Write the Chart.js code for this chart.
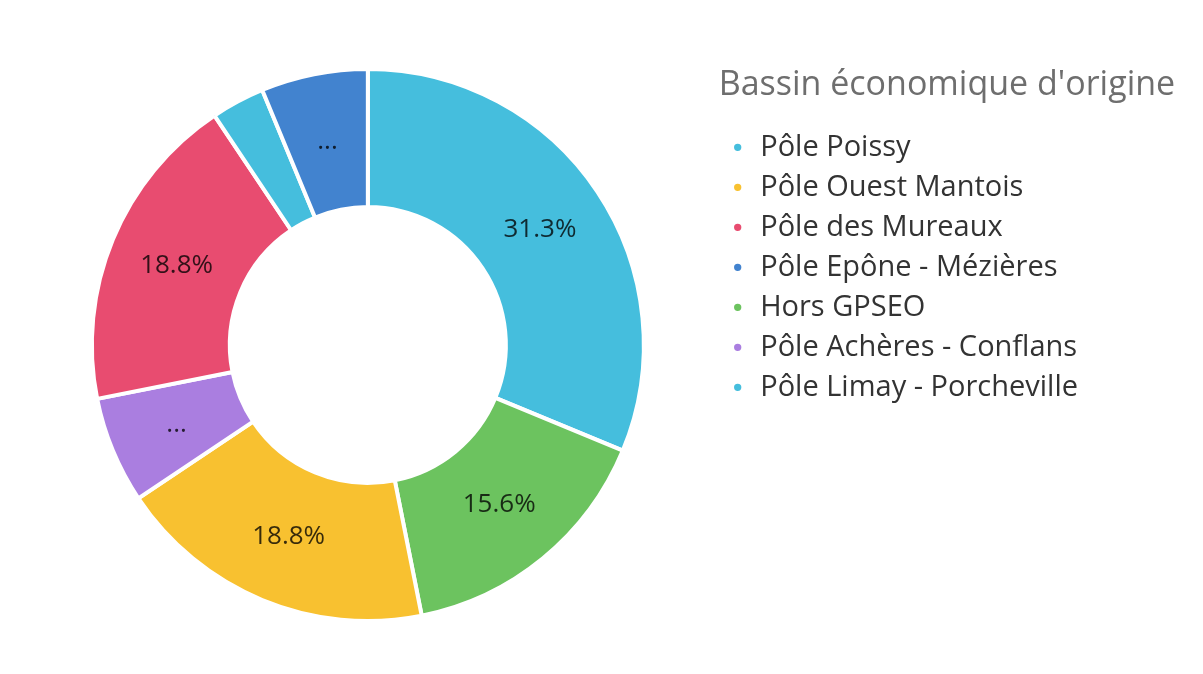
<!DOCTYPE html>
<html>
<head>
<meta charset="utf-8">
<script src="https://cdn.jsdelivr.net/npm/chart.js@4.4.0/dist/chart.umd.min.js"></script>
<style>
  html, body { margin: 0; padding: 0; background: #fff; }
  #wrap { width: 1203px; height: 674px; }
</style>
</head>
<body>
<div id="wrap"><canvas id="bassinChart"></canvas></div>
<script>
// slices, clockwise from the top
const categories = [
  "Pôle Poissy",
  "Hors GPSEO",
  "Pôle Ouest Mantois",
  "Pôle Achères - Conflans",
  "Pôle des Mureaux",
  "Pôle Limay - Porcheville",
  "Pôle Epône - Mézières"
];
const counts = [10, 5, 6, 2, 6, 1, 2];
const sliceColors = ["#45bedd", "#6cc35f", "#f8c130", "#aa7ee0", "#e84c70", "#45bedd", "#4283cf"];

// order shown in the legend
const legendOrder = [
  "Pôle Poissy",
  "Pôle Ouest Mantois",
  "Pôle des Mureaux",
  "Pôle Epône - Mézières",
  "Hors GPSEO",
  "Pôle Achères - Conflans",
  "Pôle Limay - Porcheville"
];
const legendTitle = "Bassin économique d'origine";

const FONT = "'Open Sans', 'Noto Sans', sans-serif";

// percent labels in the middle of each slice
const sliceLabels = {
  id: "sliceLabels",
  beforeDraw(chart) {
    // the title is wider than the legend items, don't let the legend clip it
    if (chart.legend) {
      chart.legend.right = chart.width;
      chart.legend.width = chart.width - chart.legend.left;
    }
  },
  afterDatasetsDraw(chart) {
    const ctx = chart.ctx;
    const data = chart.data.datasets[0].data;
    const total = data.reduce((a, b) => a + b, 0);
    const meta = chart.getDatasetMeta(0);
    ctx.save();
    ctx.font = "26px " + FONT;
    ctx.fillStyle = "rgba(0,0,0,0.78)";
    ctx.textAlign = "center";
    ctx.textBaseline = "middle";
    meta.data.forEach((arc, i) => {
      const pct = data[i] / total * 100;
      let txt = "";
      if (pct >= 10) txt = pct.toFixed(1) + "%";
      else if (pct >= 5) txt = "...";
      if (!txt) return;
      const p = arc.tooltipPosition();
      ctx.fillText(txt, p.x, p.y);
    });
    ctx.restore();
  }
};

var ctx = document.getElementById("bassinChart").getContext("2d");
var bassinChart = new Chart(ctx, {
  type: "doughnut",
  data: {
    labels: categories,
    datasets: [
      {
        data: counts,
        backgroundColor: sliceColors,
        borderColor: "#ffffff",
        borderWidth: 4
      }
    ]
  },
  options: {
    responsive: true,
    maintainAspectRatio: false,
    animation: false,
    cutout: "50%",
    layout: {
      padding: { top: 67, bottom: 51, left: 17, right: 115 }
    },
    plugins: {
      tooltip: { enabled: false },
      legend: {
        display: true,
        position: "right",
        align: "start",
        title: {
          display: true,
          text: legendTitle,
          position: "start",
          color: "#6e6e6e",
          font: { size: 34, family: FONT },
          padding: { top: 1, bottom: 13 }
        },
        labels: {
          usePointStyle: true,
          pointStyle: "circle",
          boxWidth: 16,
          boxHeight: 8,
          padding: 11,
          color: "#333333",
          font: { size: 29, family: FONT },
          sort: (a, b) => legendOrder.indexOf(a.text) - legendOrder.indexOf(b.text)
        }
      }
    }
  },
  plugins: [sliceLabels]
});
</script>
</body>
</html>
